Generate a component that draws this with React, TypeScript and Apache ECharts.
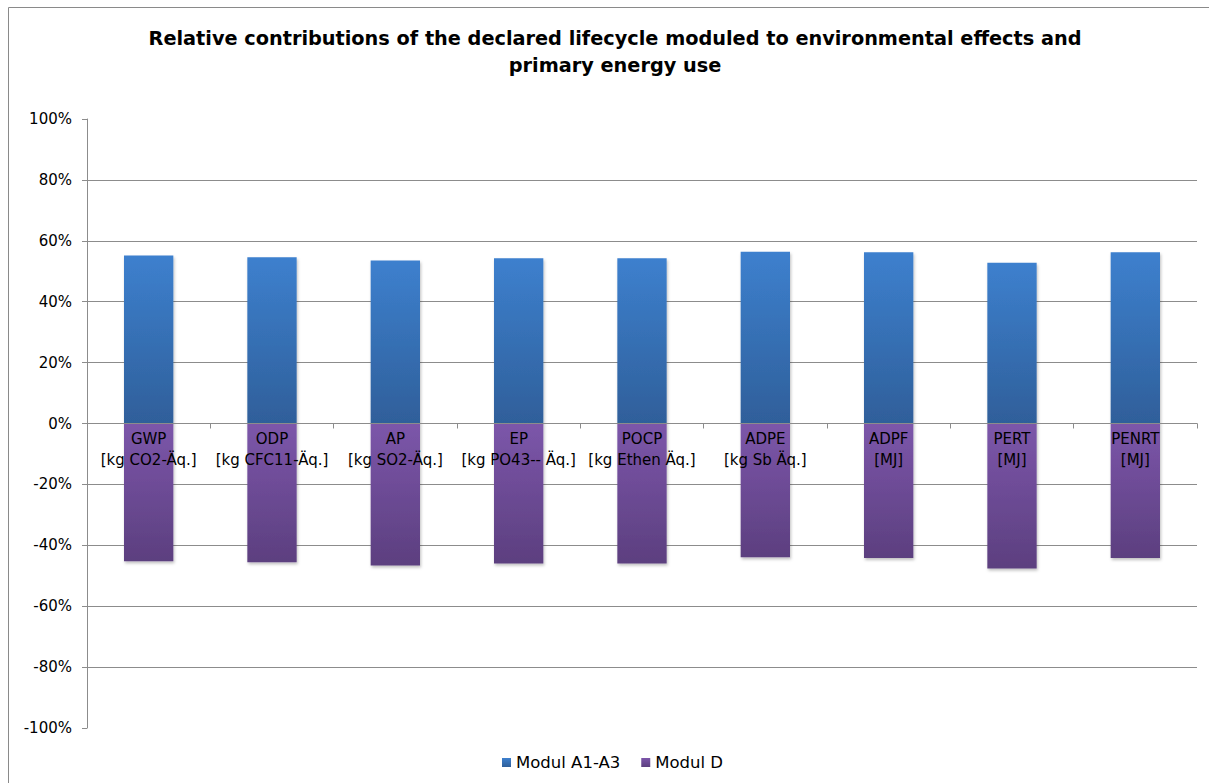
import React, { useEffect, useRef } from "react";
import * as echarts from "echarts";

const categories = [
  "GWP\n[kg CO2-Äq.]",
  "ODP\n[kg CFC11-Äq.]",
  "AP\n[kg SO2-Äq.]",
  "EP\n[kg PO43-- Äq.]",
  "POCP\n[kg Ethen Äq.]",
  "ADPE\n[kg Sb Äq.]",
  "ADPF\n[MJ]",
  "PERT\n[MJ]",
  "PENRT\n[MJ]",
];
const modulA1A3 = [55.2, 54.6, 53.5, 54.3, 54.3, 56.4, 56.2, 52.8, 56.2];
const modulD = [-45.2, -45.6, -46.6, -46.0, -46.0, -43.9, -44.2, -47.6, -44.2];
const seriesNames = ["Modul A1-A3", "Modul D"];
const titleText =
  "Relative contributions of the declared lifecycle moduled to environmental effects and\nprimary energy use";

const FONT = "'DejaVu Sans', Arial, sans-serif";

export default function App() {
  const ref = useRef<HTMLDivElement>(null);
  useEffect(() => {
    if (!ref.current) return;
    const chart = echarts.init(ref.current, null, { renderer: "svg" });
    const blueGrad = new echarts.graphic.LinearGradient(0, 0, 0, 1, [
      { offset: 0, color: "#3d80ce" },
      { offset: 1, color: "#2f5f9a" },
    ]);
    const purpleGrad = new echarts.graphic.LinearGradient(0, 0, 0, 1, [
      { offset: 0, color: "#7c56aa" },
      { offset: 1, color: "#5c3f7f" },
    ]);
    const shadow = {
      shadowBlur: 3,
      shadowOffsetX: 1,
      shadowOffsetY: 2,
      shadowColor: "rgba(0,0,0,0.25)",
    };
    chart.setOption({
      animation: false,
      backgroundColor: "#ffffff",
      textStyle: { fontFamily: FONT },
      title: {
        text: titleText,
        left: 610,
        textAlign: "center",
        top: 20,
        textStyle: {
          fontFamily: FONT,
          fontSize: 19.3,
          fontWeight: "bold",
          color: "#000",
          lineHeight: 27,
        },
      },
      graphic: [
        {
          type: "rect",
          shape: { x: 8.5, y: 7.5, width: 1400, height: 1000 },
          style: { fill: "none", stroke: "#8a8a8a", lineWidth: 1 },
          silent: true,
          z: -1,
        },
      ],
      legend: {
        data: seriesNames,
        left: 497,
        top: 749,
        itemWidth: 9,
        itemHeight: 9,
        itemGap: 21,
        icon: "rect",
        textStyle: { fontFamily: FONT, fontSize: 16.5, color: "#000" },
      },
      grid: { left: 87, right: 12, top: 119, bottom: 55, containLabel: false },
      xAxis: {
        type: "category",
        data: categories,
        z: 10,
        offset: -304.5,
        axisLine: { onZero: false, lineStyle: { color: "#8c8c8c", width: 1 } },
        axisTick: { show: true, length: 5, lineStyle: { color: "#8c8c8c" } },
        axisLabel: {
          margin: 5,
          fontFamily: FONT,
          fontSize: 15,
          color: "#000",
          lineHeight: 21,
          interval: 0,
        },
      },
      yAxis: {
        type: "value",
        min: -100,
        max: 100,
        interval: 20,
        axisLine: { show: true, lineStyle: { color: "#8c8c8c" } },
        axisTick: { show: true, length: 5, lineStyle: { color: "#8c8c8c" } },
        axisLabel: {
          formatter: "{value}%",
          margin: 15,
          fontFamily: FONT,
          fontSize: 15,
          color: "#000",
        },
        splitLine: {
          show: true,
          showMinLine: false,
          showMaxLine: false,
          lineStyle: { color: "#8c8c8c", width: 1 },
        },
      },
      series: [
        {
          name: seriesNames[0],
          type: "bar",
          stack: "total",
          data: modulA1A3,
          barWidth: "40%",
          itemStyle: { color: blueGrad, ...shadow },
        },
        {
          name: seriesNames[1],
          type: "bar",
          stack: "total",
          data: modulD,
          barWidth: "40%",
          itemStyle: { color: purpleGrad, ...shadow },
        },
      ],
    });
    return () => chart.dispose();
  }, []);
  return (
    <div
      ref={ref}
      style={{ position: "absolute", left: 0, top: 0, width: 1209, height: 783 }}
    />
  );
}
